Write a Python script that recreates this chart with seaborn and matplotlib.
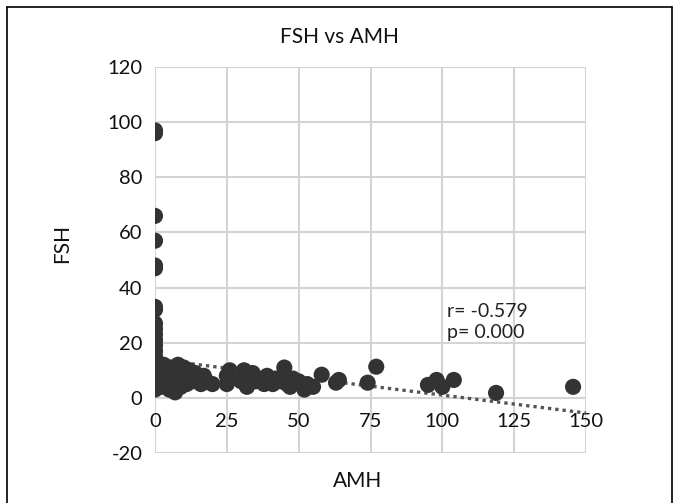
import numpy as np
import pandas as pd
import matplotlib
matplotlib.use("Agg")
import matplotlib.pyplot as plt
import seaborn as sns
from matplotlib.lines import Line2D

# ---- data ----
amh = [0, 0, 0, 0, 0, 0, 0, 0, 0, 0, 0, 0, 0, 0, 0, 0, 0, 0, 0, 0, 0,
       1, 1, 2, 2, 3, 3, 4, 4, 5, 5, 6, 6, 7, 7, 8, 8, 9, 9, 10, 10,
       11, 11, 12, 12, 13, 14, 15, 16, 17, 18, 20,
       25, 25, 26, 26, 30, 31, 32, 33, 34, 35, 36, 38, 39, 40, 41, 42,
       44, 45, 46, 47, 48, 50, 51, 52, 53, 55,
       58, 63, 64, 74, 77, 95, 98, 100, 104, 118.7, 145.5]
fsh = [97, 96, 66, 57, 48, 47, 33, 32, 27, 25, 23, 21, 19, 17, 15, 13, 11, 9, 7, 5, 3,
       8, 5, 10, 4, 7, 12, 6, 9, 3, 11, 8, 5, 2, 10, 7, 12, 4, 9, 6, 11,
       8, 5, 10, 7, 6, 9, 7, 5, 8, 6, 5,
       8, 5, 7, 10, 6, 10, 4, 8, 9, 6, 7, 5, 8, 6, 5, 7,
       6, 11, 5, 4, 7, 6, 5, 3, 5, 4,
       8.4, 5.5, 6.5, 5.5, 11.3, 4.7, 6.5, 4, 6.5, 1.8, 4]
trend_x = [0, 150]
trend_y = [14, -5.5]
x_ticks = [0, 25, 50, 75, 100, 125, 150]
y_ticks = [-20, 0, 20, 40, 60, 80, 100, 120]
title = "FSH vs AMH"
x_label = "AMH"
y_label = "FSH"
stats_text = "r= -0.579\np= 0.000"

df = pd.DataFrame({"AMH": amh, "FSH": fsh})
trend = pd.DataFrame({"x": trend_x, "y": trend_y})

sns.set_theme(style="white")
plt.rcParams["font.family"] = ["Lato", "DejaVu Sans"]

W, H = 678, 503
fig = plt.figure(figsize=(W / 100, H / 100), dpi=100)
ax = fig.add_axes([155 / W, 1 - 453 / H, (586 - 155) / W, (453 - 67) / H])

grid_c = "#d4d4d4"
for v in x_ticks:
    ax.axvline(v, color=grid_c, lw=1.5, zorder=0)
for v in y_ticks:
    ax.axhline(v, color=grid_c, lw=1.5, zorder=0)

sns.lineplot(data=trend, x="x", y="y", ax=ax, color="#555555", lw=2.4,
             linestyle=(0, (1, 1.2)), zorder=2)
sns.scatterplot(data=df, x="AMH", y="FSH", ax=ax, s=135, color="#333333",
                edgecolor="none", zorder=3)

ax.set_xlim(0, 150)
ax.set_ylim(-20, 120)
ax.set_xticks(x_ticks)
ax.set_yticks(y_ticks)
ax.set_xticklabels([str(t) for t in x_ticks])
ax.set_yticklabels([str(t) for t in y_ticks])
for s in ax.spines.values():
    s.set_visible(False)
ax.spines["bottom"].set_position(("data", 0))
ax.tick_params(axis="both", length=0, labelsize=14.5, colors="#111111")
ax.tick_params(axis="y", pad=9)
ax.tick_params(axis="x", pad=11)
ax.set_xlabel("")
ax.set_ylabel("")

ax.text(101.5, 27.5, stats_text, fontsize=14, color="#222222",
        ha="left", va="center", linespacing=1.3, zorder=4)

fig.text(339 / W, 1 - 37 / H, title, fontsize=15, ha="center", va="center", color="#111111")
fig.text(358 / W, 1 - 481 / H, x_label, fontsize=15, ha="center", va="center", color="#111111")
fig.text(62 / W, 1 - 243 / H, y_label, fontsize=15, ha="center", va="center",
         rotation=90, color="#111111")

# figure border
bx0, bx1, by0 = 7 / W, 672 / W, 1 - 7 / H
fig.add_artist(Line2D([bx0, bx1], [by0, by0], color="black", lw=1.2, transform=fig.transFigure))
fig.add_artist(Line2D([bx0, bx0], [0, by0], color="black", lw=1.2, transform=fig.transFigure))
fig.add_artist(Line2D([bx1, bx1], [0, by0], color="black", lw=1.2, transform=fig.transFigure))

fig.savefig("out.png", dpi=100)
